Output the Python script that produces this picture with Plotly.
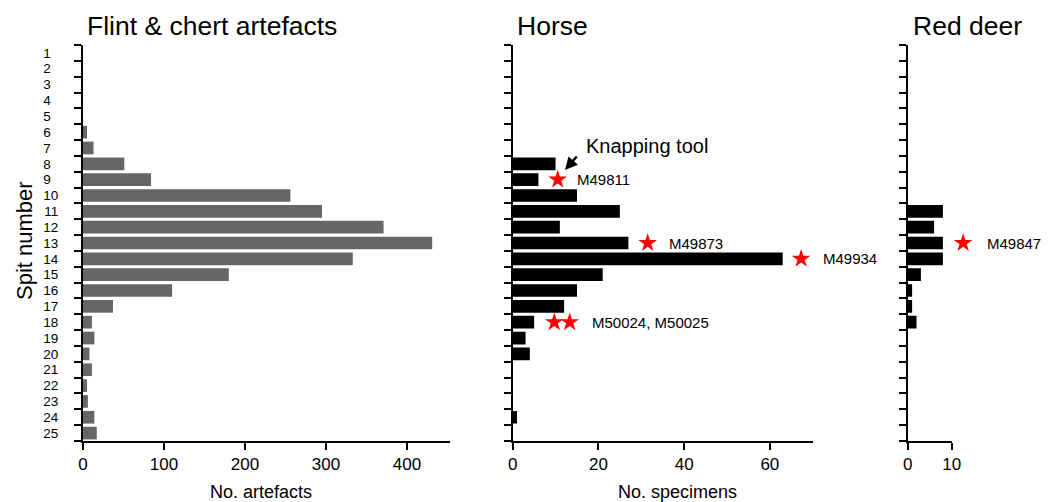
import plotly.graph_objects as go

# ---------------- data ----------------
spits = list(range(1, 26))
spit_labels = [str(s) for s in spits]

flint_counts = [0, 0, 0, 0, 0, 5, 13, 51, 84, 256, 295, 371, 431, 333, 180, 110, 37,
                11, 14, 8, 11, 5, 6, 14, 17]
horse_counts = [0, 0, 0, 0, 0, 0, 0, 10, 6, 15, 25, 11, 27, 63, 21, 15, 12,
                5, 3, 4, 0, 0, 0, 1, 0]
deer_counts = [0, 0, 0, 0, 0, 0, 0, 0, 0, 0, 8, 6, 8, 8, 3, 1, 1,
               2, 0, 0, 0, 0, 0, 0, 0]

horse_star_spits = [9, 13, 14, 18, 18]
horse_star_x = [10.5, 31.5, 67.3, 9.7, 13.3]
horse_label_spits = [9, 13, 14, 18]
horse_label_x = [14.5, 35.9, 72.0, 18.0]
horse_label_text = ["M49811", "M49873", "M49934", "M50024, M50025"]

deer_star_spits = [13]
deer_star_x = [12.6]
deer_label_spits = [13]
deer_label_x = [17.6]
deer_label_text = ["M49847"]

panel_titles = ["Flint & chert artefacts", "Horse", "Red deer"]
x_titles = ["No. artefacts", "No. specimens"]

# ---------------- layout helpers ----------------
# the page body has an 8px default margin, so the figure is drawn 8px in from
# the window's top-left corner; window pixel positions are converted below
OX, OY = 8, 8
WIN_W, WIN_H = 1054, 502
W, H = WIN_W - OX, WIN_H - OY
PLOT_TOP, PLOT_BOTTOM = 45, 441          # window pixel rows of the plot area
T = PLOT_TOP - OY
B = WIN_H - PLOT_BOTTOM
PH = H - T - B
FONT = "Liberation Sans, Arial, sans-serif"


def px(x):
    return (x - OX) / W


def py(y):
    return (PLOT_BOTTOM - y) / PH


# left-aligned look for the spit labels: pad one-digit labels by one digit width
NB2 = "\u00a0\u00a0"
spit_ticktext = [s + NB2 if len(s) == 1 else s for s in spit_labels]

fig = go.Figure()

fig.add_trace(go.Bar(y=spits, x=flint_counts, orientation="h", width=0.8,
                     marker=dict(color="#666666", line=dict(width=0)),
                     xaxis="x", yaxis="y", showlegend=False, hoverinfo="x+y"))
fig.add_trace(go.Bar(y=spits, x=horse_counts, orientation="h", width=0.8,
                     marker=dict(color="#000000", line=dict(width=0)),
                     xaxis="x2", yaxis="y2", showlegend=False, hoverinfo="x+y"))
fig.add_trace(go.Bar(y=spits, x=deer_counts, orientation="h", width=0.8,
                     marker=dict(color="#000000", line=dict(width=0)),
                     xaxis="x3", yaxis="y3", showlegend=False, hoverinfo="x+y"))

# panel pixel geometry (window pixels)
left_px = [83, 512.7, 907.7]
right_px = [450, 812.7, 951.7]
xranges = [[0, 453], [0, 70], [0, 10]]
dticks = [100, 20, 10]
domains = [[px(l), px(r)] for l, r in zip(left_px, right_px)]

# hidden helper axes with the same scale as the horse / red deer axes but a wider
# domain, so markers and labels can sit to the right of the short axes
ext_right = [1040, WIN_W]
ext_ranges = []
for k, i in enumerate([1, 2]):
    scale = xranges[i][1] / (right_px[i] - left_px[i])
    ext_ranges.append([0, scale * (ext_right[k] - left_px[i])])

fig.add_trace(go.Scatter(x=horse_star_x, y=horse_star_spits, mode="markers",
                         marker=dict(symbol="star", size=14, color="#ff0000", line=dict(width=0)),
                         cliponaxis=False, xaxis="x4", yaxis="y2", showlegend=False))
fig.add_trace(go.Scatter(x=deer_star_x, y=deer_star_spits, mode="markers",
                         marker=dict(symbol="star", size=14, color="#ff0000", line=dict(width=0)),
                         cliponaxis=False, xaxis="x5", yaxis="y3", showlegend=False))

layout = dict(
    width=W, height=H,
    margin=dict(l=0, r=0, t=T, b=B, autoexpand=False),
    plot_bgcolor="rgba(0,0,0,0)", paper_bgcolor="white",
    font=dict(family=FONT, color="black"),
    bargap=0.2,
)

for i in range(3):
    sfx = "" if i == 0 else str(i + 1)
    layout["xaxis" + sfx] = dict(
        domain=domains[i], range=xranges[i], dtick=dticks[i], tick0=0,
        showline=True, linecolor="black", linewidth=2,
        ticks="outside", ticklen=7, tickwidth=2, tickcolor="black",
        showgrid=False, zeroline=False, automargin=False,
        tickfont=dict(size=17, family=FONT, color="black"),
        anchor="y" + sfx, fixedrange=True,
    )
    layout["yaxis" + sfx] = dict(
        domain=[0, 1], range=[25.5, 0.5], anchor="x" + sfx,
        tickmode="array", tickvals=spits,
        ticktext=spit_ticktext if i == 0 else [""] * len(spits),
        showticklabels=(i == 0),
        ticks="", showline=True, linecolor="black", linewidth=2,
        showgrid=False, zeroline=False, automargin=False,
        minor=dict(tick0=0.5, dtick=1, ticks="outside", ticklen=7, tickwidth=2,
                   tickcolor="black", showgrid=False),
        tickfont=dict(size=13.5, family=FONT, color="black"),
        ticklabelstandoff=20,
        fixedrange=True,
    )

layout["xaxis4"] = dict(domain=[px(left_px[1]), px(ext_right[0])], range=ext_ranges[0],
                        anchor="y2", visible=False, automargin=False, fixedrange=True)
layout["xaxis5"] = dict(domain=[px(left_px[2]), px(ext_right[1])], range=ext_ranges[1],
                        anchor="y3", visible=False, automargin=False, fixedrange=True)

annotations = []
# panel titles
for t, x0 in zip(panel_titles, [85, 515, 911]):
    annotations.append(dict(text=t, x=px(x0), y=py(26), xref="paper", yref="paper",
                            xanchor="left", yanchor="middle", showarrow=False,
                            font=dict(size=26.5, family=FONT, color="black")))
# x-axis titles
for t, xc in zip(x_titles, [261, 677]):
    annotations.append(dict(text=t, x=px(xc), y=py(492), xref="paper", yref="paper",
                            xanchor="center", yanchor="middle", showarrow=False,
                            font=dict(size=18, family=FONT, color="black")))
# y-axis title
annotations.append(dict(text="Spit number", x=px(24), y=py(241), xref="paper", yref="paper",
                        xanchor="center", yanchor="middle", showarrow=False, textangle=-90,
                        font=dict(size=22, family=FONT, color="black")))
# specimen labels
for xv, yv, t in zip(horse_label_x, horse_label_spits, horse_label_text):
    annotations.append(dict(text=t, x=xv, y=yv, xref="x4", yref="y2", xanchor="left",
                            yanchor="middle", showarrow=False,
                            font=dict(size=15, family=FONT, color="black")))
for xv, yv, t in zip(deer_label_x, deer_label_spits, deer_label_text):
    annotations.append(dict(text=t, x=xv, y=yv, xref="x5", yref="y3", xanchor="left",
                            yanchor="middle", showarrow=False,
                            font=dict(size=15, family=FONT, color="black")))
# knapping tool text + arrow
annotations.append(dict(text="Knapping tool", x=px(584), y=py(146), xref="paper", yref="paper",
                        xanchor="left", yanchor="middle", showarrow=False,
                        font=dict(size=20, family=FONT, color="black")))
annotations.append(dict(text="", x=px(565), y=py(170), xref="paper", yref="paper",
                        showarrow=True, ax=13, ay=-15, arrowhead=2, arrowsize=1,
                        arrowwidth=2.5, arrowcolor="black"))

layout["annotations"] = annotations
fig.update_layout(**layout)

fig.write_html("out.html")
